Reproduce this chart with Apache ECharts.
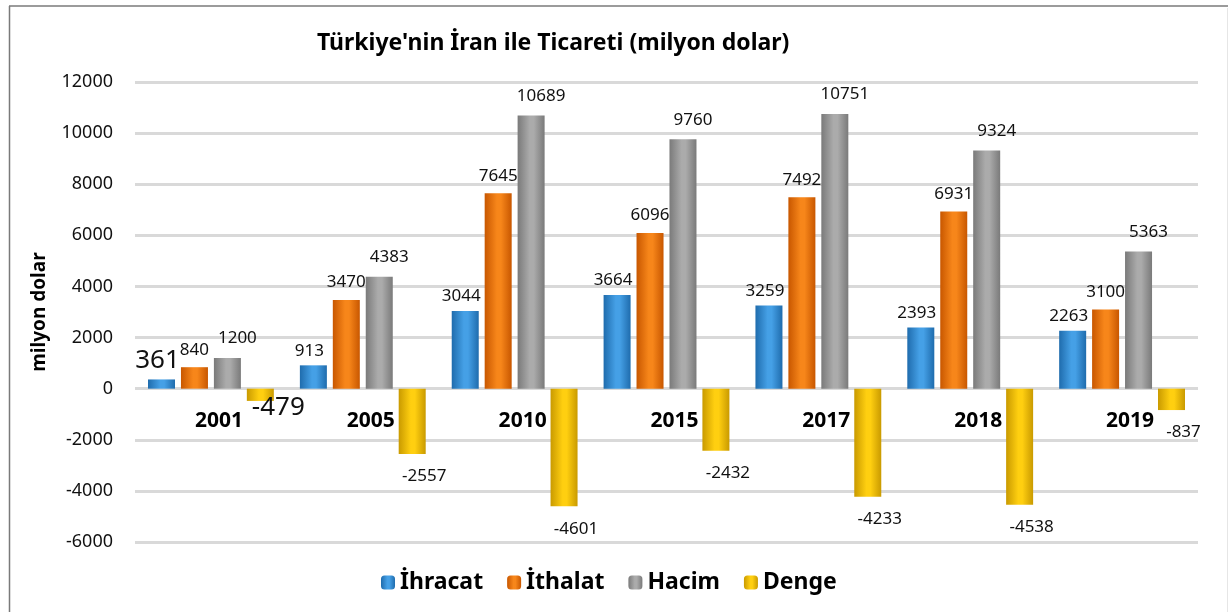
<!DOCTYPE html>
<html>
<head>
<meta charset="utf-8">
<script src="https://cdn.jsdelivr.net/npm/echarts@6/dist/echarts.min.js"></script>
<style>
  html, body { margin: 0; padding: 0; background: #fff; }
  #main { width: 1229px; height: 612px; }
</style>
</head>
<body>
<div id="main"></div>
<script>
// veriler (milyon dolar)
var years = ["2001", "2005", "2010", "2015", "2017", "2018", "2019"];
var ihracat = [361, 913, 3044, 3664, 3259, 2393, 2263];
var ithalat = [840, 3470, 7645, 6096, 7492, 6931, 3100];
var hacim = [1200, 4383, 10689, 9760, 10751, 9324, 5363];
var denge = [-479, -2557, -4601, -2432, -4233, -4538, -837];
var seriesNames = ["İhracat", "İthalat", "Hacim", "Denge"];

var FONT = "Noto Sans";

function grad(edge, mid) {
  return new echarts.graphic.LinearGradient(0, 0, 1, 0, [
    { offset: 0, color: edge },
    { offset: 0.45, color: mid },
    { offset: 0.6, color: mid },
    { offset: 1, color: edge }
  ]);
}

// 2001 etiketleri resimde daha buyuk
function withBigFirst(arr, extra) {
  return arr.map(function (v, i) {
    if (i === 0) return { value: v, label: Object.assign({ fontSize: 26 }, extra || {}) };
    return v;
  });
}

var myChart = echarts.init(document.getElementById("main"));

var labelBase = {
  show: true,
  fontFamily: FONT,
  fontSize: 17,
  color: "#111"
};

var option = {
  backgroundColor: "#fff",
  animation: false,
  title: {
    text: "Türkiye'nin İran ile Ticareti (milyon dolar)",
    left: 312,
    top: 27,
    textStyle: { fontFamily: FONT, fontSize: 23, fontWeight: "bold", color: "#000" }
  },
  legend: {
    data: seriesNames,
    top: 566,
    left: 376,
    itemWidth: 14,
    itemHeight: 14,
    itemGap: 24,
    textStyle: { fontFamily: FONT, fontSize: 23, fontWeight: "bold", color: "#000" }
  },
  grid: { left: 135, right: 31, top: 82, bottom: 70, containLabel: false },
  xAxis: {
    type: "category",
    data: years,
    // kategori etiketleri sifir cizgisinin altinda
    offset: -153,
    axisLine: { show: false, onZero: false },
    axisTick: { show: false },
    axisLabel: {
      margin: 22,
      padding: [0, 0, 0, 16],
      fontFamily: FONT,
      fontSize: 21,
      fontWeight: "bold",
      color: "#000"
    }
  },
  yAxis: {
    type: "value",
    min: -6000,
    max: 12000,
    interval: 2000,
    name: "milyon dolar",
    nameLocation: "middle",
    nameGap: 86,
    nameTextStyle: { fontFamily: FONT, fontSize: 19, fontWeight: "bold", color: "#000" },
    axisLine: { show: false },
    axisTick: { show: false },
    axisLabel: {
      margin: 22,
      fontFamily: FONT,
      fontSize: 18,
      color: "#111",
      formatter: function (v) { return String(v); }
    },
    splitLine: { lineStyle: { color: "#d9d9d9", width: 3 } }
  },
  series: [
    {
      name: seriesNames[0],
      type: "bar",
      barWidth: 27,
      barGap: "22%",
      data: withBigFirst(ihracat),
      itemStyle: { color: grad("#1f6cad", "#45a0e6") },
      label: Object.assign({}, labelBase, { position: "top", distance: 6, offset: [-4, 0] })
    },
    {
      name: seriesNames[1],
      type: "bar",
      barWidth: 27,
      barGap: "22%",
      data: ithalat,
      itemStyle: { color: grad("#c85700", "#f7861a") },
      label: Object.assign({}, labelBase, { position: "top", distance: 9 })
    },
    {
      name: seriesNames[2],
      type: "bar",
      barWidth: 27,
      barGap: "22%",
      data: hacim,
      itemStyle: { color: grad("#7a7a7a", "#ababab") },
      label: Object.assign({}, labelBase, { position: "top", distance: 11, offset: [10, 0] })
    },
    {
      name: seriesNames[3],
      type: "bar",
      barWidth: 27,
      barGap: "22%",
      data: withBigFirst(denge, { offset: [18, -20] }),
      itemStyle: { color: grad("#c99a00", "#ffcf10") },
      label: Object.assign({}, labelBase, { position: "bottom", distance: 14, offset: [12, 0] })
    }
  ],
  graphic: [
    { type: "line", shape: { x1: 9, y1: 6, x2: 1228, y2: 6 }, style: { stroke: "#7a7a7a", lineWidth: 1.5 } },
    { type: "line", shape: { x1: 9.5, y1: 6, x2: 9.5, y2: 612 }, style: { stroke: "#7a7a7a", lineWidth: 1.5 } },
    { type: "line", shape: { x1: 1227.5, y1: 8, x2: 1227.5, y2: 612 }, style: { stroke: "#e6e6e6", lineWidth: 1 } }
  ]
};
myChart.setOption(option);
</script>
</body>
</html>
